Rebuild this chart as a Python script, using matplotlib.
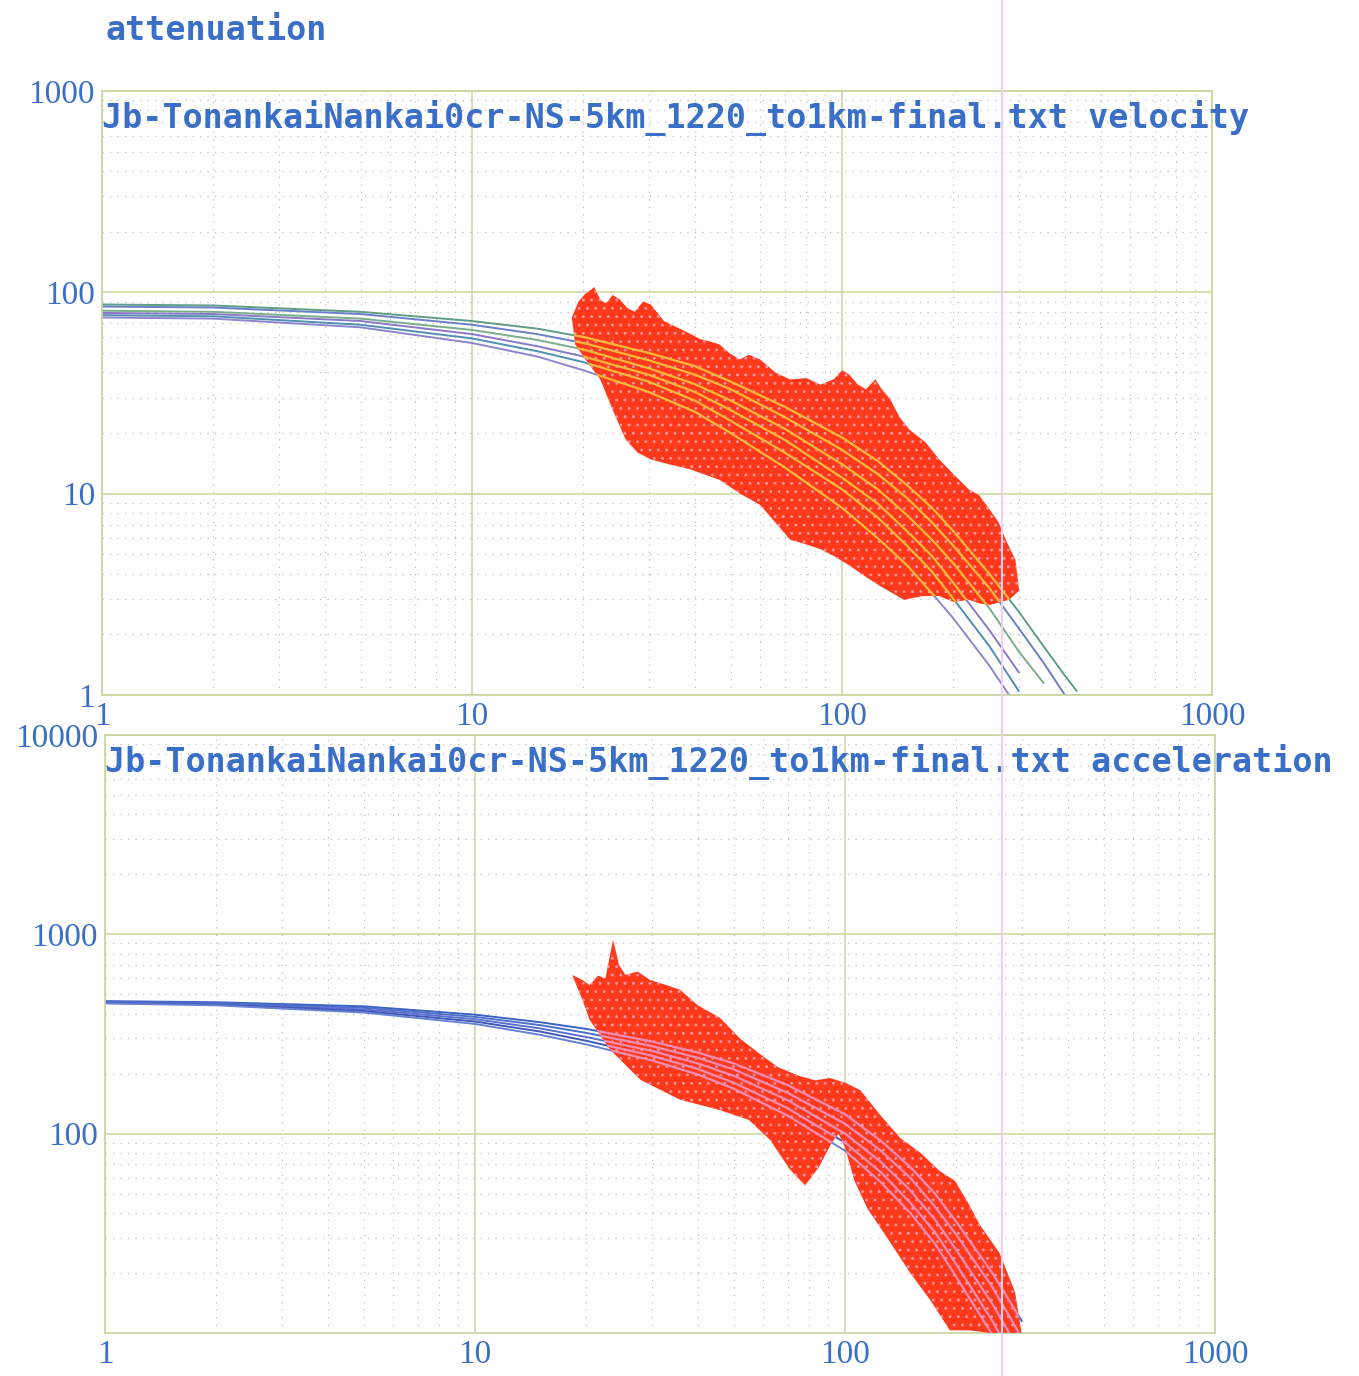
import numpy as np
import matplotlib.pyplot as plt
from matplotlib.lines import Line2D

plt.rcParams['hatch.linewidth'] = 0.8

# distancias (km) e curvas de atenuacao - velocidade
vel_dist = [1, 2, 5, 10, 15, 20, 30, 40, 50, 70, 100, 125, 150, 175, 200, 250, 300, 350, 400, 430]
vel_a = [87, 86, 80, 72, 66, 60, 50, 43, 36, 27, 19, 14.5, 11, 8.5, 6.5, 4.0, 2.6, 1.75, 1.25, 1.05]
vel_b = [85, 84, 78, 69, 62, 56, 46, 39, 33, 24, 16.5, 12.5, 9.5, 7.2, 5.5, 3.4, 2.15, 1.45, 1.0]
vel_c = [81, 80, 74, 65, 58, 52, 42, 35, 29, 21, 14, 10.5, 7.8, 5.9, 4.5, 2.7, 1.65, 1.15]
vel_d = [79, 78, 72, 62, 54, 48, 39, 32, 26, 18.5, 12, 8.9, 6.5, 4.9, 3.6, 2.1, 1.3]
vel_e = [77, 76, 69, 59, 51, 45, 36, 29, 23, 16, 10.5, 7.6, 5.5, 4.1, 3.0, 1.75, 1.05]
vel_f = [75, 74, 67, 56, 48, 41, 32, 25.5, 20, 13.5, 8.5, 6.0, 4.4, 3.2, 2.4, 1.4, 0.85]

# nuvem de observacoes (contorno) - velocidade
vel_up_x = [18.6, 19.4, 20.2, 21.4, 22.2, 23.0, 24.0, 25.1, 26.2, 27.5, 29.0, 30.4, 33.0,
            36.7, 39.0, 41.4, 44.0, 46.7, 49.5, 52.9, 56, 60, 66, 72.4, 80, 87.4, 95,
            100, 104.6, 110, 116, 123, 128, 135, 143, 152, 168, 183, 200, 220, 235,
            251, 265, 277, 294, 301]
vel_up_y = [75, 90, 98, 106, 92, 88, 97, 92, 84, 80, 90, 87, 72, 65.5, 62, 58.5, 57, 55,
            50, 46.4, 49, 46.4, 40, 36.9, 37.5, 34.8, 37, 41, 39, 35, 33, 37, 33, 29.4,
            24, 20.8, 18, 14.8, 12.5, 10.5, 9.8, 8.3, 7.2, 5.9, 4.7, 3.3]
vel_lo_x = [19.0, 20.5, 22.2, 24.0, 26, 28, 30.4, 34, 38.9, 46.7, 53, 60, 66, 72.4, 80,
            87.4, 95, 104.6, 115, 126, 137, 147, 165, 183, 200, 220, 235, 251, 268, 283, 301]
vel_lo_y = [55, 45, 37, 26, 18.6, 16, 14.8, 14.0, 13.2, 11.7, 10.0, 8.8, 7.2, 5.9, 5.6,
            5.3, 4.9, 4.4, 3.9, 3.5, 3.2, 2.97, 3.1, 3.1, 2.9, 2.97, 2.85, 2.8, 2.9, 2.97, 3.3]

# curvas de atenuacao - aceleracao
acc_dist = [1, 2, 5, 10, 15, 20, 30, 40, 50, 70, 100, 125, 150, 175, 200, 250, 300]
acc_a = [462, 456, 435, 395, 362, 335, 290, 255, 225, 175, 125, 92, 68, 50, 36, 20, 11.5]
acc_b = [458, 452, 428, 385, 350, 320, 275, 240, 210, 160, 112, 82, 60, 43, 31, 17, 9.5]
acc_c = [455, 448, 420, 375, 337, 305, 260, 225, 195, 147, 100, 72, 52, 37, 26, 14, 7.8]
acc_d = [452, 444, 412, 365, 325, 292, 246, 211, 180, 134, 90, 64, 45, 32, 22, 11.5, 6.2]
acc_e = [450, 440, 405, 355, 313, 280, 233, 198, 168, 123, 82, 57, 40, 28, 19, 9.8]

# nuvem de observacoes (contorno) - aceleracao
acc_up_x = [18.3, 19.5, 20.4, 21.5, 22.5, 23.6, 24.5, 25.5, 27.5, 29.7, 32.5, 35.8, 40,
            46, 52, 59, 66, 75, 83, 91, 100, 110, 124, 141, 160, 180, 198, 215, 231,
            262, 288, 300]
acc_up_y = [625, 590, 556, 620, 600, 937, 700, 625, 650, 590, 560, 527, 440, 380, 300,
            250, 215, 195, 185, 190, 180, 165, 125, 95, 80, 65, 58, 45, 35, 25, 16, 10]
acc_lo_x = [18.3, 19.5, 20.4, 23.2, 28, 35.8, 46, 55, 62.7, 71, 78, 85, 92, 96, 100,
            106, 115, 130, 150, 170, 192, 218, 246, 300]
acc_lo_y = [625, 470, 372, 263, 186, 148, 131, 117, 93, 66, 55, 68, 90, 100, 85,
            58, 42, 30, 20, 14.6, 10.3, 10.3, 10, 10]

titulo_vel = 'Jb-TonankaiNankai0cr-NS-5km_1220_to1km-final.txt velocity'
titulo_acc = 'Jb-TonankaiNankai0cr-NS-5km_1220_to1km-final.txt acceleration'

azul = '#3a6fc8'
verde_grade = '#c9d49e'

fig = plt.figure(figsize=(13.59, 13.76), dpi=100)
ax1 = fig.add_axes([0.0751, 0.4949, 0.8168, 0.4390])
ax2 = fig.add_axes([0.0773, 0.0313, 0.8168, 0.4346])


def preparar(ax, ylim, yticks):
    ax.set_xscale('log')
    ax.set_yscale('log')
    ax.set_xlim(1, 1000)
    ax.set_ylim(*ylim)
    ax.grid(which='major', color=verde_grade, lw=1.1, zorder=0)
    ax.grid(which='minor', color='#bdbdbd', lw=0.9, linestyle=(0, (1, 5)), zorder=0)
    for s in ax.spines.values():
        s.set_color(verde_grade)
        s.set_linewidth(1.2)
    ax.set_xticks([1, 10, 100, 1000])
    ax.set_xticklabels(['1', '10', '100', '1000'])
    ax.set_yticks(yticks)
    ax.set_yticklabels([str(v) for v in yticks])
    ax.tick_params(which='both', length=0, labelsize=24, labelcolor=azul, pad=5)
    for lb in ax.get_xticklabels() + ax.get_yticklabels():
        lb.set_fontfamily('Liberation Serif')
    ax.set_axisbelow(True)


preparar(ax1, (1, 1000), [1, 10, 100, 1000])
preparar(ax2, (10, 10000), [100, 1000, 10000])

# painel de velocidade
cores_vel = ['#5e9e86', '#6a7fc8', '#7aae8a', '#8a78c8', '#4f8fb0', '#8e86cc']
curvas_vel = [vel_a, vel_b, vel_c, vel_d, vel_e, vel_f]
for vals, c in zip(curvas_vel, cores_vel):
    ax1.plot(vel_dist[:len(vals)], vals, color=c, lw=1.4, zorder=2)
nuvem1 = ax1.fill(vel_up_x + vel_lo_x[::-1], vel_up_y + vel_lo_y[::-1],
                  facecolor='#ff3a1c', edgecolor='#ff9aa8', hatch='..', lw=0, zorder=3)[0]
for vals in curvas_vel:
    ln, = ax1.plot(vel_dist[:len(vals)], vals, color='#f5b83a', lw=1.6, zorder=4)
    ln.set_clip_path(nuvem1)

# painel de aceleracao
cores_acc = ['#3d62c4', '#4a70c8', '#5a6fd0', '#3f58b8', '#6680d4']
curvas_acc = [acc_a, acc_b, acc_c, acc_d, acc_e]
for vals, c in zip(curvas_acc, cores_acc):
    ax2.plot(acc_dist[:len(vals)], vals, color=c, lw=1.4, zorder=2)
nuvem2 = ax2.fill(acc_up_x + acc_lo_x[::-1], acc_up_y + acc_lo_y[::-1],
                  facecolor='#ff3a1c', edgecolor='#ff9aa8', hatch='..', lw=0, zorder=3)[0]
for vals in curvas_acc:
    ln, = ax2.plot(acc_dist[:len(vals)], vals, color='#f08cb4', lw=1.6, zorder=4)
    ln.set_clip_path(nuvem2)

fonte_titulo = dict(family='DejaVu Sans Mono', fontsize=24, color=azul, fontweight='bold')
ax1.text(0.0, 0.985, titulo_vel, transform=ax1.transAxes, va='top', ha='left',
         clip_on=False, zorder=6, **fonte_titulo)
ax2.text(0.0, 0.985, titulo_acc, transform=ax2.transAxes, va='top', ha='left',
         clip_on=False, zorder=6, **fonte_titulo)
fig.text(105 / 1359, 1 - 30 / 1376, 'attenuation', va='center', ha='left', **fonte_titulo)

# risco rosa do scanner
fig.add_artist(Line2D([1002 / 1359] * 2, [0, 1], transform=fig.transFigure,
                      color='#f6cdeb', lw=1.5, zorder=10))

plt.savefig('out.png', dpi=100)
